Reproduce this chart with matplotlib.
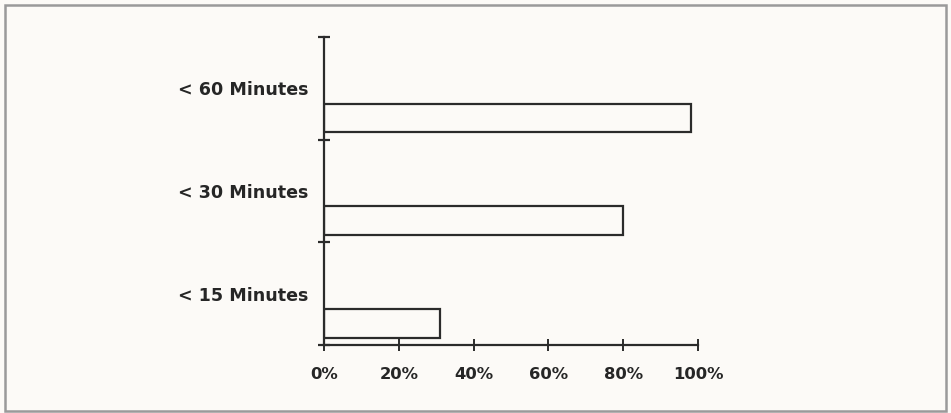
import matplotlib.pyplot as plt
from matplotlib.patches import Rectangle

# --- data ---
categories = ["< 15 Minutes", "< 30 Minutes", "< 60 Minutes"]
shares = [31, 80, 98]            # percent
x_ticks = [0, 20, 40, 60, 80, 100]
x_labels = ["0%", "20%", "40%", "60%", "80%", "100%"]

paper = "#fcfaf7"
ink = "#2b2b2b"

fig = plt.figure(figsize=(9.51, 4.13), dpi=100, facecolor=paper)
ax = fig.add_axes([0.3407, 0.1646, 0.3933, 0.7458], facecolor=paper)

# bars sit in the lower part of each category band
ypos = [i + 0.07 for i in range(len(categories))]
ax.barh(ypos, shares, height=0.28, align="edge", color=paper,
        edgecolor=ink, linewidth=1.6)

ax.set_xlim(0, 100)
ax.set_ylim(0, 3)

ax.spines["top"].set_visible(False)
ax.spines["right"].set_visible(False)
for s in ("left", "bottom"):
    ax.spines[s].set_linewidth(1.6)
    ax.spines[s].set_color(ink)

ax.set_xticks(x_ticks)
ax.set_xticklabels(x_labels, fontsize=11.8, fontweight="bold", color="#262626")
ax.tick_params(axis="x", direction="inout", length=8, width=1.4, color=ink, pad=12)

# separator ticks on the y axis, labels at band centres
ax.set_yticks([0, 1, 2, 3])
ax.set_yticklabels([])
ax.tick_params(axis="y", which="major", direction="inout", length=8, width=1.6, color=ink)
ax.set_yticks([i + 0.5 for i in range(len(categories))], minor=True)
ax.set_yticklabels(categories, minor=True, fontsize=12.6, fontweight="bold", color="#262626")
ax.tick_params(axis="y", which="minor", length=0, pad=11)

# scan frame around the whole picture
fig.patches.append(Rectangle((5 / 951, 2 / 413), 941 / 951, 406 / 413,
                             transform=fig.transFigure, fill=False,
                             edgecolor="#9a9a9a", linewidth=1.8))

fig.savefig("out.png", dpi=100, facecolor=paper)
